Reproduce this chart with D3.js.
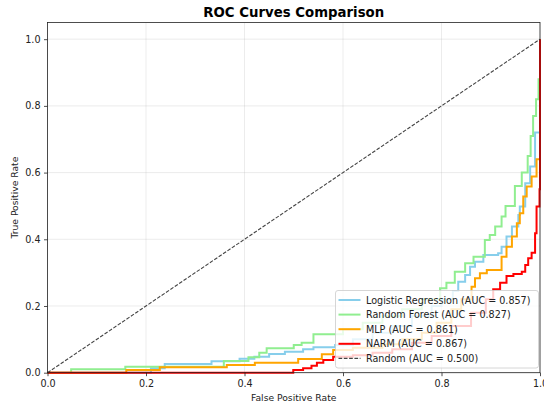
<!DOCTYPE html>
<html>
<head>
<meta charset="utf-8">
<style>
    body { margin: 0; background: white; }
    svg { font-family: 'DejaVu Sans', sans-serif; }
</style>
</head>
<body>
<svg width="544" height="407"></svg>
<script src="https://d3js.org/d3.v7.min.js"></script>
<script>
    // values
    let lrFpr = [0, 0.21, 0.238, 0.333, 0.39, 0.42, 0.45, 0.482, 0.519, 0.54, 0.584, 0.62, 0.66, 0.70, 0.74, 0.78, 0.80, 0.823, 0.834, 0.848, 0.858, 0.868, 0.885, 0.915, 0.922, 0.932, 0.943, 0.956, 0.959, 0.97, 0.98, 0.99, 1.0]
    let lrTpr = [0, 0.013, 0.026, 0.034, 0.042, 0.048, 0.056, 0.063, 0.07, 0.076, 0.083, 0.1, 0.12, 0.14, 0.17, 0.2, 0.22, 0.245, 0.273, 0.293, 0.318, 0.333, 0.353, 0.358, 0.378, 0.408, 0.438, 0.473, 0.498, 0.568, 0.618, 0.72, 1.0]

    let rfFpr = [0, 0.048, 0.158, 0.358, 0.408, 0.43, 0.445, 0.5, 0.516, 0.54, 0.6, 0.64, 0.68, 0.72, 0.76, 0.797, 0.81, 0.827, 0.848, 0.865, 0.888, 0.898, 0.909, 0.922, 0.93, 0.949, 0.963, 0.975, 0.981, 0.986, 0.992, 0.997, 1.0]
    let rfTpr = [0, 0.01, 0.018, 0.035, 0.046, 0.06, 0.073, 0.083, 0.09, 0.115, 0.13, 0.15, 0.17, 0.19, 0.22, 0.253, 0.27, 0.303, 0.328, 0.348, 0.398, 0.413, 0.438, 0.468, 0.5, 0.56, 0.6, 0.65, 0.71, 0.77, 0.82, 0.88, 1.0]

    let mlpFpr = [0, 0.16, 0.228, 0.364, 0.421, 0.509, 0.557, 0.58, 0.62, 0.68, 0.72, 0.76, 0.79, 0.82, 0.84, 0.861, 0.868, 0.878, 0.892, 0.922, 0.932, 0.943, 0.953, 0.959, 0.966, 0.973, 0.983, 0.993, 1.0]
    let mlpTpr = [0, 0.008, 0.016, 0.023, 0.03, 0.041, 0.055, 0.068, 0.075, 0.085, 0.1, 0.12, 0.15, 0.19, 0.22, 0.258, 0.283, 0.298, 0.308, 0.348, 0.378, 0.408, 0.448, 0.478, 0.528, 0.558, 0.588, 0.64, 1.0]

    let narmFpr = [0, 0.499, 0.519, 0.536, 0.547, 0.56, 0.58, 0.62, 0.66, 0.7, 0.74, 0.78, 0.82, 0.86, 0.89, 0.905, 0.919, 0.932, 0.946, 0.963, 0.97, 0.976, 0.983, 0.99, 0.993, 0.999, 1.0]
    let narmTpr = [0, 0.008, 0.013, 0.021, 0.03, 0.038, 0.048, 0.052, 0.06, 0.07, 0.09, 0.11, 0.14, 0.18, 0.22, 0.25, 0.27, 0.29, 0.296, 0.303, 0.323, 0.343, 0.36, 0.418, 0.498, 0.55, 1.0]

    let randFpr = [0, 1]
    let randTpr = [0, 1]

    let names = ["Logistic Regression", "Random Forest", "MLP", "NARM", "Random"]
    let aucs = [0.857, 0.827, 0.861, 0.867, 0.500]
    let ticks = [0, 0.2, 0.4, 0.6, 0.8, 1.0]

    let colors = ["#87ceeb", "#90ee90", "#ffa500", "#ff0000", "#444444"]
    let series = [[lrFpr, lrTpr], [rfFpr, rfTpr], [mlpFpr, mlpTpr], [narmFpr, narmTpr], [randFpr, randTpr]]

    let plotL = 47.5, plotR = 540, plotT = 22.5, plotB = 372.7
    let svg = d3.select("svg")

    let x = d3.scaleLinear().domain([0, 1]).range([plotL, plotR])
    let y = d3.scaleLinear().domain([0, 1.05]).range([plotB, plotT])

    // grid
    let grid = svg.append("g")
    grid.selectAll(".gx").data(ticks).join("line")
        .attr("x1", d => x(d)).attr("x2", d => x(d))
        .attr("y1", plotT).attr("y2", plotB)
        .attr("stroke", "#b0b0b0").attr("stroke-opacity", 0.3).attr("stroke-width", 0.8)
    grid.selectAll(".gy").data(ticks).join("line")
        .attr("x1", plotL).attr("x2", plotR)
        .attr("y1", d => y(d)).attr("y2", d => y(d))
        .attr("stroke", "#b0b0b0").attr("stroke-opacity", 0.3).attr("stroke-width", 0.8)

    // curves
    series.forEach((s, i) => {
        let pts = s[0].map((f, j) => [f, s[1][j]])
        let line = d3.line()
            .x(d => x(d[0])).y(d => y(d[1]))
            .curve(i < 4 ? d3.curveStepAfter : d3.curveLinear)
        svg.append("path")
            .datum(pts)
            .attr("d", line)
            .attr("fill", "none")
            .attr("stroke", colors[i])
            .attr("stroke-width", i < 4 ? 2 : 1.1)
            .attr("stroke-dasharray", i < 4 ? null : "3.7,1.6")
            .attr("stroke-linejoin", "miter")
    })

    // axes
    let xAxis = svg.append("g")
        .attr("transform", `translate(0,${plotB})`)
        .call(d3.axisBottom(x).tickValues(ticks).tickFormat(d3.format(".1f")).tickSize(3.5).tickPadding(3.5))
    let yAxis = svg.append("g")
        .attr("transform", `translate(${plotL},0)`)
        .call(d3.axisLeft(y).tickValues(ticks).tickFormat(d3.format(".1f")).tickSize(3.5).tickPadding(3.5))
    ;[xAxis, yAxis].forEach(a => {
        a.select(".domain").remove()
        a.selectAll("line").attr("stroke", "#222").attr("stroke-width", 0.8)
        a.selectAll("text").attr("font-size", 9.6).attr("fill", "#222").attr("font-family", "DejaVu Sans")
    })

    // frame
    svg.append("rect")
        .attr("x", plotL).attr("y", plotT)
        .attr("width", plotR - plotL).attr("height", plotB - plotT)
        .attr("fill", "none").attr("stroke", "#222").attr("stroke-width", 0.8)

    // titles
    svg.append("text")
        .attr("x", (plotL + plotR) / 2).attr("y", 17)
        .attr("text-anchor", "middle")
        .attr("font-size", 13.3).attr("font-weight", "bold")
        .text("ROC Curves Comparison")
    svg.append("text")
        .attr("x", (plotL + plotR) / 2).attr("y", 401)
        .attr("text-anchor", "middle")
        .attr("font-size", 9.2).attr("fill", "#222")
        .text("False Positive Rate")
    svg.append("text")
        .attr("transform", `translate(18,${(plotT + plotB) / 2}) rotate(-90)`)
        .attr("text-anchor", "middle")
        .attr("font-size", 9.2).attr("fill", "#222")
        .text("True Positive Rate")

    // legend
    let lg = svg.append("g").attr("transform", "translate(335.5,290.5)")
    lg.append("rect")
        .attr("width", 203).attr("height", 77.5).attr("rx", 2.5)
        .attr("fill", "white").attr("fill-opacity", 0.8)
        .attr("stroke", "#cccccc").attr("stroke-width", 0.8)
    names.forEach((n, i) => {
        let yy = 9.5 + i * 14.6
        lg.append("line")
            .attr("x1", 3).attr("x2", 25)
            .attr("y1", yy).attr("y2", yy)
            .attr("stroke", colors[i])
            .attr("stroke-width", i < 4 ? 2 : 1.1)
            .attr("stroke-dasharray", i < 4 ? null : "3.7,1.6")
        lg.append("text")
            .attr("x", 30.5).attr("y", yy + 3.5)
            .attr("font-size", 9.6).attr("fill", "#222")
            .text(`${n} (AUC = ${aucs[i].toFixed(3)})`)
    })
</script>
</body>
</html>
